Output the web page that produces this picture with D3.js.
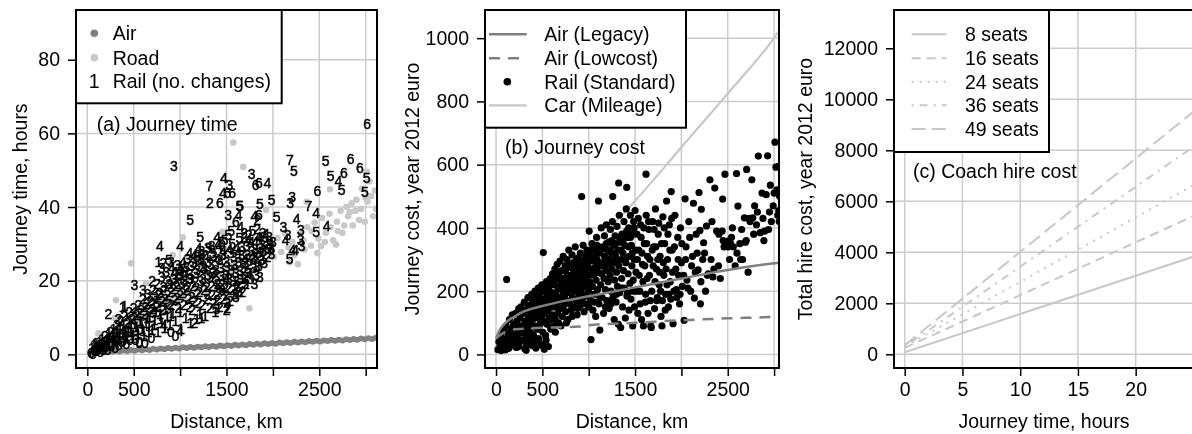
<!DOCTYPE html>
<html>
<head>
<meta charset="utf-8">
<script src="https://cdn.jsdelivr.net/npm/d3@7"></script>
<style>
  body { margin: 0; background: #fff; }
  svg { filter: grayscale(100%); }
  svg text { font-family: "Liberation Sans", Arial, Helvetica, sans-serif; fill: #000; }
</style>
</head>
<body>
<div id="wrapper"></div>
<script>
// ---------- panel (a): journey time vs distance ----------
const airTime = [[30,0.4],[70,0.7],[110,0.5],[150,0.8],[190,0.6],[230,0.9],[270,0.7],[310,1.0],[350,0.8],[390,1.1],[430,0.9],[470,1.2],[510,1.0],[550,1.3],[590,1.1],[630,1.4],[670,1.2],[710,1.5],[750,1.3],[790,1.6],[830,1.4],[870,1.7],[910,1.5],[950,1.8],[990,1.6],[1030,1.9],[1070,1.7],[1110,2.0],[1150,1.8],[1190,2.1],[1230,1.9],[1270,2.2],[1310,2.0],[1350,2.3],[1390,2.1],[1430,2.4],[1470,2.2],[1510,2.5],[1550,2.3],[1590,2.6],[1630,2.4],[1670,2.7],[1710,2.5],[1750,2.8],[1790,2.6],[1830,2.9],[1870,2.7],[1910,3.0],[1950,2.8],[1990,3.1],[2030,2.9],[2070,3.2],[2110,3.0],[2150,3.3],[2190,3.1],[2230,3.4],[2270,3.2],[2310,3.5],[2350,3.3],[2390,3.6],[2430,3.4],[2470,3.7],[2510,3.5],[2550,3.8],[2590,3.6],[2630,3.9],[2670,3.7],[2710,4.0],[2750,3.8],[2790,4.1],[2830,3.9],[2870,4.2],[2910,4.0],[2950,4.3],[2990,4.1],[3030,4.4],[3070,4.2],[3110,4.5]];

const roadTime = [[60,1.2],[90,2.5],[119,5.7],[150,2.2],[180,3.8],[220,3.0],[260,4.6],[274,5.8],[298,9.9],[309,14.7],[330,4.2],[370,6.2],[410,5.4],[450,7.6],[471,24.7],[490,6.6],[530,8.8],[570,7.8],[610,10.0],[633,19.3],[650,9.0],[690,11.2],[730,10.2],[770,12.4],[810,11.4],[850,13.6],[890,12.6],[920,27.0],[930,14.8],[970,13.8],[1010,16.0],[1028,31.8],[1050,15.0],[1090,17.2],[1130,16.2],[1170,18.4],[1210,17.4],[1250,19.6],[1290,18.6],[1330,20.8],[1370,19.8],[1410,22.0],[1450,21.0],[1459,33.3],[1490,23.2],[1530,22.2],[1570,24.4],[1573,57.5],[1610,23.4],[1650,25.6],[1681,50.9],[1690,24.6],[1730,26.8],[1746,12.5],[1770,25.8],[1810,28.0],[1850,27.0],[1890,29.2],[1926,39.2],[1930,28.2],[1970,30.4],[2010,26.5],[2050,31.6],[2090,27.8],[2130,32.8],[2170,29.0],[2210,30.5],[2250,28.5],[2290,33.0],[2330,31.0],[2364,41.4],[2370,34.5],[2410,29.5],[2450,35.8],[2490,31.5],[2520,29.4],[2530,37.0],[2570,33.0],[2610,38.2],[2615,44.8],[2650,31.0],[2690,36.0],[2700,33.5],[2730,39.0],[2770,35.0],[2795,40.1],[2810,37.5],[2830,38.6],[2850,41.0],[2890,39.0],[2900,42.0],[2930,36.5],[2960,45.0],[2990,36.0],[3010,49.6],[3020,41.5],[3040,47.0],[3060,43.0],[3100,44.5],[3110,39.5],[2180,25.0],[2230,27.0],[2270,24.5],[2340,28.5],[2420,33.5],[2480,27.5],[2560,30.5],[2620,34.5],[2680,29.8],[2750,33.0],[2860,35.0],[2950,39.5],[3080,37.5],[3000,42.5]];

// [distance km, hours, number of changes]
const railTime = [
  [40,0.5,0],[50,1.8,1],[60,0.2,0],[70,2.5,1],[80,1.0,0],[90,3.0,1],[100,0.8,0],[110,2.2,1],[120,1.5,0],[130,3.5,1],[140,0.6,0],[150,2.8,1],[160,4.2,1],[170,1.2,0],[180,3.3,1],[190,5.0,2],[200,2.0,0],[210,4.0,1],[220,1.3,0],[230,5.5,1],[240,3.0,0],[250,6.2,2],[260,2.2,0],[270,4.6,1],[280,7.0,1],[290,3.5,1],[300,1.8,0],[310,5.8,1],[320,8.0,2],[330,4.2,1],[340,2.6,0],[350,6.8,1],[360,9.2,2],[370,3.4,0],[380,5.2,1],[390,7.6,1],[400,10.5,2],[410,4.5,1],[420,2.8,0],[430,8.5,2],[440,6.0,1],[450,11.5,2],[460,3.8,0],[470,7.2,1],[480,9.5,2],[490,5.2,1],[500,12.5,2],
  [510,8.2,1],[520,4.0,0],[530,10.8,2],[540,6.5,1],[550,13.5,2],[560,3.2,0],[570,9.0,1],[580,12.0,2],[590,7.0,1],[600,15.0,2],[610,5.0,1],[620,11.0,2],[630,8.5,1],[640,13.8,2],[650,16.5,3],[660,6.2,1],[670,10.2,1],[680,14.5,2],[690,4.5,0],[700,12.2,2],[710,17.5,2],[720,8.0,1],[730,15.5,3],[740,11.5,1],[750,19.0,2],[760,6.0,1],[770,13.2,2],[780,16.8,2],[790,9.5,1],[800,21.0,3],
  [810,12.0,2],[820,18.2,3],[830,7.2,1],[840,15.0,2],[850,22.5,3],[860,10.5,1],[870,19.8,2],[880,13.8,2],[890,8.0,1],[900,17.0,2],[910,23.5,4],[920,11.2,1],[930,20.5,3],[940,14.8,2],[950,9.0,1],[960,18.5,2],[970,24.2,3],[980,12.5,2],[990,21.8,3],[1000,16.2,2],[1010,7.0,1],[1020,19.5,3],[1030,25.0,4],[1040,13.5,2],[1050,22.5,3],[1060,10.0,1],[1070,17.5,2],[1080,26.0,3],[1090,15.0,2],[1100,20.5,3],
  [1110,8.5,1],[1120,24.0,3],[1130,12.0,2],[1140,18.5,2],[1150,27.0,4],[1160,14.5,2],[1170,22.0,3],[1180,9.5,1],[1190,16.5,2],[1200,25.5,3],[1210,11.0,1],[1220,20.0,3],[1230,28.0,3],[1240,13.5,2],[1250,23.5,3],[1260,17.5,2],[1270,10.5,1],[1280,26.5,4],[1290,15.0,2],[1300,21.5,3],[1310,29.0,5],[1320,12.5,2],[1330,24.5,3],[1340,18.5,2],[1350,27.5,3],[1360,14.0,2],[1370,22.5,3],[1380,11.5,1],[1390,20.0,2],[1400,26.0,4],
  [1410,16.5,2],[1420,29.5,4],[1430,13.0,2],[1440,23.5,3],[1450,19.0,2],[1460,27.0,3],[1470,15.0,2],[1480,31.0,5],[1490,21.5,3],[1500,25.0,3],[1510,12.5,2],[1520,18.0,2],[1530,28.5,4],[1540,14.5,2],[1550,23.0,3],[1560,30.0,5],[1570,20.0,3],[1580,26.5,3],[1590,16.5,2],[1600,22.0,3],[1610,29.0,4],[1620,18.5,2],[1630,25.0,3],[1640,31.5,5],[1650,20.5,3],[1660,27.0,3],[1670,17.0,2],[1680,23.5,3],[1690,33.0,2],[1700,26.0,4],
  [1710,19.0,2],[1720,29.5,3],[1730,22.0,3],[1740,31.0,4],[1750,24.5,2],[1760,20.5,3],[1770,28.0,3],[1780,33.5,5],[1790,23.5,3],[1800,26.5,3],[1810,30.5,4],[1820,21.5,3],[1830,34.0,2],[1840,27.5,3],[1850,24.0,3],[1860,31.5,4],[1870,29.0,3],[1880,25.5,3],[1890,33.0,3],[1900,28.0,3],[1920,30.5,3],[1940,26.5,2],[1960,32.0,3],[1980,29.0,3],[2000,30.5,3],
  [105,1.8,0],[125,2.6,1],[145,1.9,0],[165,3.0,1],[185,2.4,0],[205,3.6,1],[225,2.7,1],[245,4.4,1],[265,3.2,0],[285,5.2,1],[305,3.9,1],[325,6.1,1],[345,4.6,1],[365,7.0,2],[385,3.7,0],[405,6.4,1],[425,5.0,1],[445,8.8,2],[465,6.2,1],[485,4.4,1],[505,10.0,2],[525,7.4,1],[545,5.6,1],[565,11.2,2],[585,8.6,1],[605,6.4,1],[625,12.8,2],[645,9.8,1],[665,7.6,1],[685,11.6,2],[705,14.0,2],[725,9.4,1],[745,13.0,2],[765,16.2,2],[785,11.0,1],[805,14.6,2],[825,17.6,2],[845,12.2,1],[865,16.0,2],[885,19.2,3],[905,13.4,2],[925,17.8,2],[945,20.6,3],[965,15.2,2],[985,19.0,2],[1005,22.6,3],[1025,16.6,2],[1045,20.0,3],[1065,23.8,3],[1085,18.2,2],[1105,21.8,3],[1125,15.6,2],[1145,24.8,3],[1165,19.6,2],[1185,22.8,3],[1205,17.0,2],[1225,25.8,3],[1245,20.6,3],[1265,23.2,3],[1285,18.4,2],[1305,25.0,3],[1325,21.0,3],[1345,16.0,2],[1365,26.8,3],[1385,23.0,3],[1405,19.2,2],[1425,25.6,3],[1445,21.2,3],[1465,28.2,4],[1485,18.0,2],[1505,23.8,3],[1525,20.6,3],[1545,27.6,3],[1565,17.6,2],[1585,24.2,3],[1605,19.8,3],[1625,27.8,4],[1645,22.6,3],[1665,29.2,3],[1685,20.4,3],[1705,24.8,3],[1725,27.0,3],[1745,22.0,3],[1765,30.4,4],[1785,25.8,3],[1805,28.6,3],[1825,23.8,3],[1845,31.8,4],[1865,26.6,3],[1885,29.6,3],[1905,24.8,3],[1925,32.6,4],[1945,28.6,3],[1965,30.0,3],[1985,27.2,3],
  [700,6.5,1],[800,8.5,1],[900,10.5,1],[1000,11.5,1],[1100,13.0,2],[1200,14.0,2],[1300,16.5,2],[1400,14.8,2],[1500,16.0,2],[1600,18.0,2],[1700,21.0,2],[1800,19.0,3],
  [600,17.5,3],[700,20.0,2],[800,23.5,3],[900,25.0,3],[1100,27.5,4],[1200,29.0,4],[1400,32.0,4],[1550,33.5,5],[1650,34.5,4],
  // scattered labels
  [3017,62.5,6],[934,51.2,3],[2184,52.8,7],[2227,49.9,5],[2569,52.5,5],[2838,53.0,6],[2938,50.7,6],[2622,48.4,5],[2765,49.3,6],[2705,47.1,4],[3011,48.0,5],[2741,44.6,5],[2992,44.0,5],[2479,44.4,6],
  [1771,49.0,3],[1815,46.0,6],[1850,46.6,6],[1940,46.6,4],[1861,40.8,5],[1987,41.9,5],[2207,42.8,3],[2185,41.0,3],[2382,40.3,7],[2465,38.5,4],[1646,40.3,5],[1800,37.5,4],[1850,37.8,6],[1830,36.5,2],[2041,37.4,5],[2112,34.6,3],[2256,36.9,4],[2579,34.8,4],[2465,33.3,5],[2303,33.7,3],[2137,31.0,4],[2160,32.5,3],[2300,31.0,3],[2310,29.5,3],[2210,28.4,4],[2240,28.4,4],[2180,25.9,5],
  [1473,47.8,4],[1530,46.0,3],[1315,45.6,7],[1460,43.9,4],[1510,43.9,6],[1560,43.9,6],[1320,41.0,2],[1430,41.0,6],[1638,40.3,5],[1518,37.9,3],[1630,37.9,4],[1600,36.0,6],[1107,36.6,5],[783,29.4,4],[1000,29.4,4],[765,25.1,1],[507,18.8,3],[1216,32.0,5],[1520,32.5,5],[1690,32.0,2],[1740,32.5,2],
  [226,11.1,2],[380,13.0,1],[400,13.2,1],[335,9.6,2],[1502,12.1,2],[1390,12.3,3],[1154,8.6,2],[1230,10.0,1],[1510,14.0,3],[1600,15.5,3],[1640,17.0,3],[1700,19.0,5],[1502,20.4,4],[1860,21.0,3],[825,8.0,4],[998,6.4,4],[900,6.0,0],[950,5.0,0],[620,3.0,0],[560,3.5,0],
  [820,24.8,2],[880,25.5,5],[940,22.5,4],[1000,22.8,4],[1040,21.5,2],[1110,20.5,3],[1180,26.5,5],[1230,27.2,3],[1340,29.5,3],[1410,30.0,4],[1450,30.5,5],[1300,28.8,3],[1250,24.0,2],[1350,22.0,3],[1420,18.0,5],[1450,17.5,3]
];

// ---------- panel (b): journey cost vs distance ----------
const airLegacyCost = [[0,50],[30,72],[97,98],[200,120],[295,135],[500,153],[750,170],[1000,184],[1500,212],[2003,240],[2499,267],[3000,288],[3060,290]];
const airLowcostCost = [[0,52],[60,64],[151,77],[300,81],[600,85],[906,88],[1000,92],[1500,100],[2000,108],[2500,114],[3000,119],[3060,120]];
const carCost = [[0,45],[500,185],[1000,330],[1500,485],[2000,655],[2500,825],[3000,1000],[3060,1025]];

const railCost = [
  [20,15],[30,40],[40,22],[50,60],[55,12],[60,32],[70,18],[75,50],[80,75],[90,28],[100,14],[105,45],[110,90],[115,237],[120,35],[130,65],[140,20],[145,110],[150,48],[160,80],[170,30],[175,125],[180,58],[190,95],[200,40],[205,70],[210,130],[220,22],[225,105],[230,55],[240,85],[245,145],[250,35],[260,115],[265,68],[270,150],[280,90],[285,45],[290,130],[300,75],[305,165],[310,18],[315,105],[320,55],[325,13],[330,140],[340,85],[345,180],[350,120],[355,40],[360,100],[365,155],[370,70],[380,135],[385,190],[390,28],[395,110],[400,165],[405,60],[410,145],[415,90],[420,200],[425,125],[430,20],[435,175],[440,80],[445,150],[450,115],[455,210],[460,50],[465,135],[470,185],[475,95],[480,160],[485,30],[490,120],[495,220],[500,145],[505,70],[510,322],[512,175],[518,105],[521,16],[525,200],[530,130],[535,60],[540,165],[545,230],[550,95],[555,185],[560,140],[565,25],[570,210],[575,115],[580,170],[585,240],[590,80],[595,150],[600,195],
  [605,125],[610,255],[615,175],[620,90],[625,220],[630,150],[635,270],[640,110],[645,195],[650,240],[655,160],[660,285],[665,130],[670,210],[675,100],[680,250],[685,180],[690,295],[695,145],[700,225],[705,170],[710,265],[715,120],[720,200],[725,310],[730,155],[735,240],[740,185],[745,280],[750,135],[755,215],[760,170],[765,300],[770,250],[775,110],[780,195],[785,330],[790,230],[795,160],[800,275],[805,205],[810,140],[815,245],[820,315],[825,180],[830,220],[835,290],[840,150],[845,260],[850,200],[855,340],[860,235],[865,170],[870,280],[875,125],[880,215],[885,305],[890,250],[895,190],[900,270],[905,155],[910,320],[915,230],[920,200],[924,499],[925,285],[930,175],[935,255],[940,345],[945,215],[950,135],[955,300],[960,240],[965,185],[970,270],[975,220],[980,330],[985,160],[990,290],[995,250],[1000,200],
  [1005,390],[1010,230],[1015,310],[1020,170],[1025,47],[1030,270],[1035,350],[1040,215],[1045,140],[1050,295],[1055,250],[1060,190],[1065,330],[1070,275],[1075,120],[1080,235],[1085,370],[1090,300],[1095,205],[1100,260],[1105,485],[1110,160],[1115,320],[1120,77],[1125,280],[1130,220],[1135,400],[1140,255],[1145,180],[1150,340],[1155,290],[1160,130],[1165,240],[1170,375],[1175,310],[1180,205],[1185,265],[1190,410],[1195,170],[1200,330],[1205,285],[1210,230],[1215,355],[1220,145],[1225,300],[1230,250],[1235,395],[1240,200],[1245,320],[1250,270],[1255,420],[1259,499],[1260,180],[1265,345],[1270,290],[1275,110],[1280,235],[1285,375],[1290,310],[1295,165],[1300,260],[1305,405],[1310,215],[1315,330],[1320,95],[1323,542],[1325,280],[1330,440],[1335,195],[1340,355],[1345,85],[1350,300],[1355,240],[1360,380],[1365,150],[1370,320],[1375,265],[1380,420],[1385,210],[1390,345],[1395,115],[1400,290],[1405,460],[1410,528],[1412,185],[1418,370],[1425,255],[1430,400],[1435,140],[1440,310],[1445,225],[1450,440],[1455,175],[1460,345],[1465,280],[1470,380],[1475,90],[1480,235],[1485,420],[1490,300],[1495,150],[1500,455],
  [1505,330],[1510,260],[1515,200],[1520,380],[1525,300],[1530,130],[1535,430],[1540,330],[1545,250],[1550,200],[1555,160],[1560,410],[1565,370],[1570,110],[1575,320],[1580,285],[1585,230],[1590,90],[1595,400],[1600,350],[1605,280],[1610,165],[1615,190],[1618,570],[1620,440],[1625,350],[1630,240],[1635,310],[1640,130],[1645,420],[1650,395],[1655,250],[1660,300],[1665,170],[1670,90],[1675,85],[1680,200],[1685,330],[1690,420],[1695,280],[1700,340],[1705,395],[1710,145],[1715,230],[1720,460],[1725,340],[1730,270],[1735,170],[1740,180],[1745,300],[1750,380],[1755,415],[1760,220],[1765,260],[1770,310],[1775,200],[1780,120],[1785,350],[1790,90],[1795,170],[1800,435],[1805,290],[1810,250],[1815,400],[1820,350],[1825,140],[1830,190],[1835,270],[1840,485],[1845,220],[1850,300],[1855,380],[1860,150],[1865,190],[1870,410],[1875,330],[1880,230],[1885,175],[1890,515],[1895,430],[1900,330],[1905,260],[1910,97],[1920,200],[1925,340],[1930,440],[1940,270],[1945,205],[1950,180],[1960,370],[1965,300],[1970,250],[1980,160],[1985,190],[1990,400],[2000,290],
  [2005,350],[2010,215],[2025,250],[2030,108],[2040,492],[2045,300],[2050,340],[2060,235],[2070,210],[2080,420],[2090,370],[2100,200],[2110,280],[2120,310],[2130,478],[2140,178],[2150,260],[2160,380],[2170,320],[2180,267],[2190,512],[2200,392],[2205,160],[2210,230],[2215,459],[2230,300],[2240,353],[2250,320],[2260,200],[2270,406],[2280,250],[2290,255],[2308,552],[2320,300],[2330,420],[2340,245],[2350,270],[2360,526],[2380,390],[2400,280],[2405,380],[2420,240],[2440,390],[2445,491],[2450,360],[2460,340],[2470,570],[2480,345],[2500,358],[2505,340],[2520,300],[2530,350],[2540,370],[2550,400],[2560,340],[2580,280],[2595,572],[2600,320],[2610,469],[2630,350],[2640,300],[2650,395],[2660,300],[2680,432],[2690,355],[2700,360],[2704,585],[2720,260],[2730,430],[2740,420],[2760,552],[2770,432],[2780,380],[2790,470],[2810,410],[2820,450],[2830,627],[2850,385],[2870,510],[2880,430],[2890,360],[2900,390],[2915,505],[2930,628],[2940,395],[2950,450],[2960,535],[2970,420],[2990,470],[3000,510],[3010,671],[3020,592],[3030,520],[3040,440],[3045,595],[3050,455],[3055,420],[3060,500],
  [310,95],[330,60],[350,150],[370,115],[390,170],[410,125],[430,160],[450,190],[470,140],[490,175],[510,200],[530,160],[550,215],[570,170],[590,225],[610,195],[630,235],[650,180],[670,260],[690,215],[710,240],[730,205],[750,265],[770,225],[790,285],[810,250],[830,270],[850,235],[870,300],[890,275],[910,250],[930,295],[950,260],[970,310],[990,280],[1010,300],[1030,330],[1050,260],[1070,310],[1090,345],[1110,290],[1130,330],[1150,280],[1170,310],[1190,350],[1210,300],[1230,330],[1250,360],[1270,320],[1290,350],[1310,290],[1330,370],[1350,330],[1370,360],[1390,300],[1410,390],[1430,340],[1450,370],[1470,320],[1490,400],
  [60,20],[90,45],[120,18],[150,30],[200,60],[240,25],[280,70],[330,30],[380,50],[420,40],[460,80],[500,30],[540,45],[580,110],[640,70],[700,90],[760,100],[820,120],[880,145],[940,160],[1000,150],[1060,165],[1120,180],[1180,150],[1240,160],[1300,190],[1360,210],[1420,195],[1480,200]
];

// ---------- panel (c): coach hire cost vs journey time ----------
const seatLabels = ["8 seats", "16 seats", "24 seats", "36 seats", "49 seats"];
const hireHours = [0, 26];
const hireCost8 = [80, 3980];
const hireCost16 = [250, 5630];
const hireCost24 = [300, 6890];
const hireCost36 = [300, 8450];
const hireCost49 = [350, 9880];
const seatDash = [null, "9,6", "2,6", "2,6,8,6", "14,6"];

// ---------- drawing ----------
const gridColor = "#cccccc";
const lightGray = "#c8c8c8";
const darkGray = "#808080";
const fontSize = 19.5;

const svg = d3.select("#wrapper").append("svg")
    .attr("width", 1192)
    .attr("height", 434);
const defs = svg.append("defs");

function makePanel(p) {
    const top = 10, bottom = 368;
    const x = d3.scaleLinear().domain(p.xDomain).range([p.left, p.right]);
    const y = d3.scaleLinear().domain(p.yDomain).range([bottom, top]);
    const g = svg.append("g");

    g.append("g").selectAll("line").data(p.xTicks).join("line")
        .attr("x1", d => x(d)).attr("x2", d => x(d))
        .attr("y1", top).attr("y2", bottom)
        .attr("stroke", gridColor).attr("stroke-width", 1.5);
    g.append("g").selectAll("line").data(p.yTicks).join("line")
        .attr("x1", p.left).attr("x2", p.right)
        .attr("y1", d => y(d)).attr("y2", d => y(d))
        .attr("stroke", gridColor).attr("stroke-width", 1.5);

    const xAxis = d3.axisBottom(x)
        .tickValues(p.xTicks)
        .tickSize(8).tickPadding(6)
        .tickFormat(d => p.xLabelled.includes(d) ? String(d) : "");
    g.append("g")
        .attr("transform", `translate(0,${bottom})`)
        .call(xAxis)
        .call(a => a.select(".domain").remove())
        .call(a => a.selectAll("line").attr("stroke-width", 1.5))
        .attr("font-size", fontSize)
        .attr("font-family", null);

    const yAxis = d3.axisLeft(y)
        .tickValues(p.yTicks)
        .tickSize(8).tickPadding(8)
        .tickFormat(d => String(d));
    g.append("g")
        .attr("transform", `translate(${p.left},0)`)
        .call(yAxis)
        .call(a => a.select(".domain").remove())
        .call(a => a.selectAll("line").attr("stroke-width", 1.5))
        .attr("font-size", fontSize)
        .attr("font-family", null);

    g.append("text")
        .attr("x", (p.left + p.right) / 2)
        .attr("y", 427.5)
        .attr("text-anchor", "middle")
        .attr("font-size", fontSize)
        .text(p.xTitle);
    g.append("text")
        .attr("transform", `translate(${p.yTitleX},${(top + bottom) / 2}) rotate(-90)`)
        .attr("text-anchor", "middle")
        .attr("dy", "0.35em")
        .attr("font-size", fontSize)
        .text(p.yTitle);

    defs.append("clipPath").attr("id", p.id)
        .append("rect")
        .attr("x", p.left).attr("y", top)
        .attr("width", p.right - p.left).attr("height", bottom - top);
    const plot = g.append("g").attr("clip-path", `url(#${p.id})`);
    const over = g.append("g");

    const drawBox = () => over.append("rect")
        .attr("x", p.left).attr("y", top)
        .attr("width", p.right - p.left).attr("height", bottom - top)
        .attr("fill", "none").attr("stroke", "#000").attr("stroke-width", 2);

    return { x, y, plot, over, drawBox };
}

function legendBox(layer, x0, y0, x1, y1) {
    layer.append("rect")
        .attr("x", x0).attr("y", y0)
        .attr("width", x1 - x0).attr("height", y1 - y0)
        .attr("fill", "#fff").attr("stroke", "#000").attr("stroke-width", 2);
}

function legendText(layer, x, y, txt) {
    layer.append("text")
        .attr("x", x).attr("y", y).attr("dy", "0.35em")
        .attr("font-size", fontSize)
        .text(txt);
}

// panel (a)
const pa = makePanel({
    id: "clipA", left: 76, right: 377,
    xDomain: [-122, 3122], yDomain: [-3.7, 93.5],
    xTicks: [0, 500, 1000, 1500, 2000, 2500, 3000], xLabelled: [0, 500, 1500, 2500],
    yTicks: [0, 20, 40, 60, 80],
    xTitle: "Distance, km", yTitle: "Journey time, hours", yTitleX: 20
});
pa.plot.append("g").selectAll("circle").data(airTime).join("circle")
    .attr("cx", d => pa.x(d[0])).attr("cy", d => pa.y(d[1]))
    .attr("r", 3).attr("fill", darkGray);
pa.plot.append("g").selectAll("circle").data(roadTime).join("circle")
    .attr("cx", d => pa.x(d[0])).attr("cy", d => pa.y(d[1]))
    .attr("r", 3.3).attr("fill", lightGray);
pa.plot.append("g")
    .selectAll("text").data(railTime).join("text")
    .attr("x", d => pa.x(d[0])).attr("y", d => pa.y(d[1]))
    .attr("dy", "0.36em")
    .attr("text-anchor", "middle")
    .attr("font-size", 14)
    .attr("stroke", "#000").attr("stroke-width", 0.45)
    .text(d => d[2]);
legendBox(pa.over, 76, 10, 281.7, 103.3);
pa.over.append("circle").attr("cx", 94.3).attr("cy", 33.3).attr("r", 3.8).attr("fill", darkGray);
pa.over.append("circle").attr("cx", 94.3).attr("cy", 57.7).attr("r", 3.8).attr("fill", lightGray);
pa.over.append("text").attr("x", 94.3).attr("y", 81).attr("dy", "0.35em")
    .attr("text-anchor", "middle").attr("font-size", fontSize).text("1");
legendText(pa.over, 112.7, 33.3, "Air");
legendText(pa.over, 112.7, 57.7, "Road");
legendText(pa.over, 112.7, 81, "Rail (no. changes)");
legendText(pa.over, 96.7, 124.3, "(a) Journey time");
pa.drawBox();

// panel (b)
const pb = makePanel({
    id: "clipB", left: 485, right: 779,
    xDomain: [-119, 3053], yDomain: [-43, 1089],
    xTicks: [0, 500, 1000, 1500, 2000, 2500, 3000], xLabelled: [0, 500, 1500, 2500],
    yTicks: [0, 200, 400, 600, 800, 1000],
    xTitle: "Distance, km", yTitle: "Journey cost, year 2012 euro", yTitleX: 411.7
});
const lineB = d3.line().x(d => pb.x(d[0])).y(d => pb.y(d[1])).curve(d3.curveMonotoneX);
pb.plot.append("path").attr("d", lineB(carCost))
    .attr("fill", "none").attr("stroke", lightGray).attr("stroke-width", 2.2);
pb.plot.append("g").selectAll("circle").data(railCost).join("circle")
    .attr("cx", d => pb.x(d[0])).attr("cy", d => pb.y(d[1]))
    .attr("r", 3.6).attr("fill", "#000");
pb.plot.append("path").attr("d", lineB(airLegacyCost))
    .attr("fill", "none").attr("stroke", darkGray).attr("stroke-width", 2.5);
pb.plot.append("path").attr("d", lineB(airLowcostCost))
    .attr("fill", "none").attr("stroke", darkGray).attr("stroke-width", 2.5)
    .attr("stroke-dasharray", "11,8");
legendBox(pb.over, 485, 10, 686, 127.7);
pb.over.append("line").attr("x1", 489).attr("x2", 526.7).attr("y1", 34.3).attr("y2", 34.3)
    .attr("stroke", darkGray).attr("stroke-width", 2.5);
pb.over.append("line").attr("x1", 489).attr("x2", 526.7).attr("y1", 58.3).attr("y2", 58.3)
    .attr("stroke", darkGray).attr("stroke-width", 2.5).attr("stroke-dasharray", "11,8");
pb.over.append("circle").attr("cx", 507.3).attr("cy", 81.7).attr("r", 3.8).attr("fill", "#000");
pb.over.append("line").attr("x1", 489).attr("x2", 526.7).attr("y1", 105.3).attr("y2", 105.3)
    .attr("stroke", lightGray).attr("stroke-width", 2.2);
legendText(pb.over, 544.3, 34.3, "Air (Legacy)");
legendText(pb.over, 544.3, 58.3, "Air (Lowcost)");
legendText(pb.over, 544.3, 81.7, "Rail (Standard)");
legendText(pb.over, 544.3, 105.3, "Car (Mileage)");
legendText(pb.over, 505, 147.3, "(b) Journey cost");
pb.drawBox();

// panel (c)
const pc = makePanel({
    id: "clipC", left: 894, right: 1194,
    xDomain: [-0.926, 25.05], yDomain: [-537, 13502],
    xTicks: [0, 5, 10, 15, 20], xLabelled: [0, 5, 10, 15, 20],
    yTicks: [0, 2000, 4000, 6000, 8000, 10000, 12000],
    xTitle: "Journey time, hours", yTitle: "Total hire cost, year 2012 euro", yTitleX: 805
});
const hireSeries = [hireCost8, hireCost16, hireCost24, hireCost36, hireCost49];
const lineC = d3.line().x(d => pc.x(d[0])).y(d => pc.y(d[1]));
hireSeries.forEach((vals, i) => {
    pc.plot.append("path")
        .attr("d", lineC(hireHours.map((h, k) => [h, vals[k]])))
        .attr("fill", "none").attr("stroke", lightGray).attr("stroke-width", 2)
        .attr("stroke-dasharray", seatDash[i]);
});
legendBox(pc.over, 894, 10, 1049, 152);
const rowsC = [34.3, 58.3, 81.7, 105.3, 129];
seatLabels.forEach((lab, i) => {
    pc.over.append("line").attr("x1", 911.7).attr("x2", 946.7)
        .attr("y1", rowsC[i]).attr("y2", rowsC[i])
        .attr("stroke", lightGray).attr("stroke-width", 2)
        .attr("stroke-dasharray", seatDash[i]);
    legendText(pc.over, 965, rowsC[i], lab);
});
legendText(pc.over, 913, 170.7, "(c) Coach hire cost");
pc.drawBox();
</script>
</body>
</html>
